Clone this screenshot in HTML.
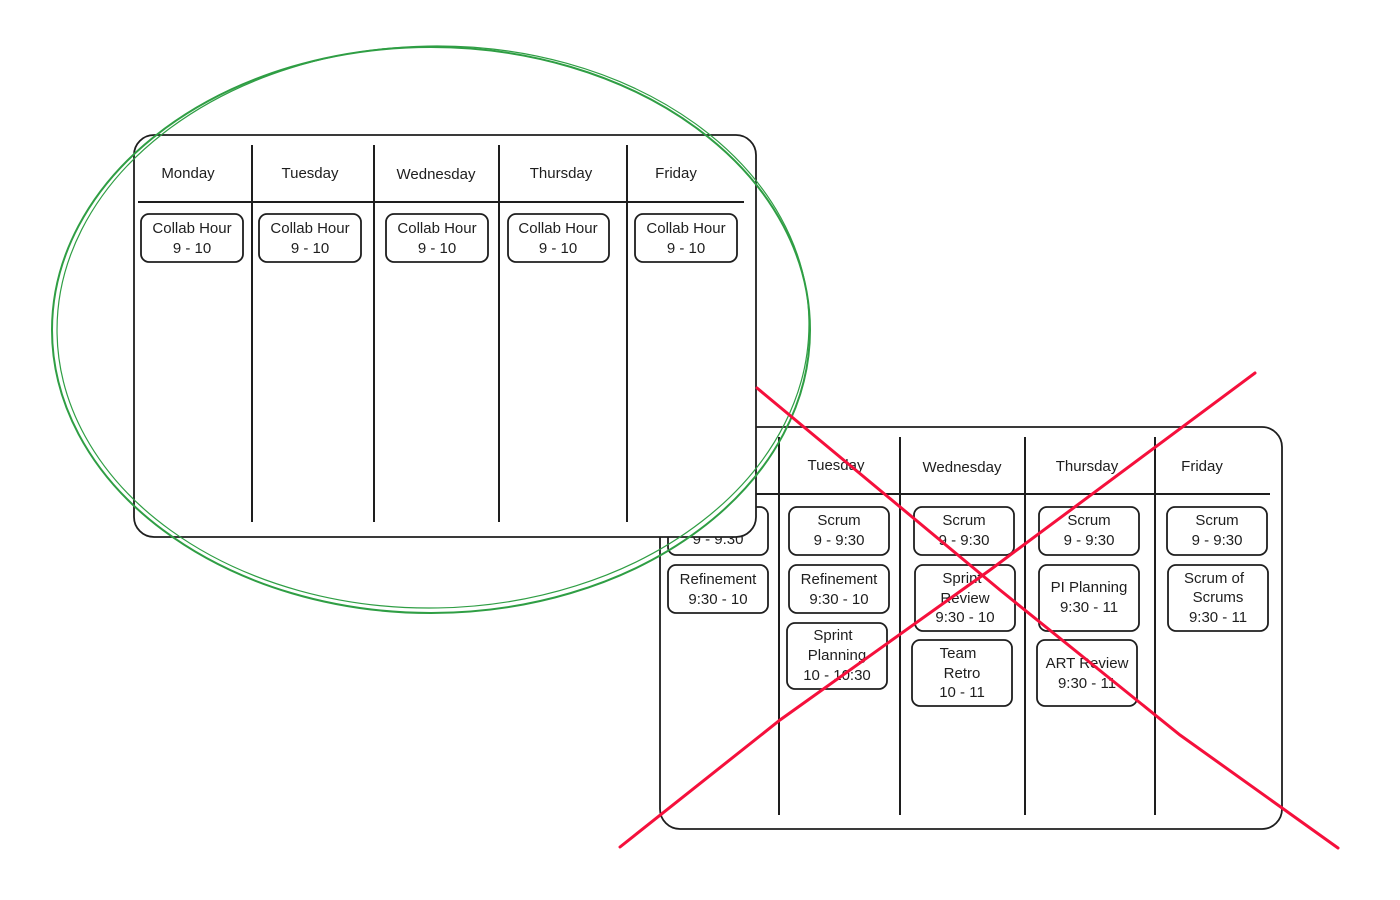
<!DOCTYPE html>
<html><head><meta charset="utf-8"><style>
html,body{margin:0;padding:0;background:#fff;}
svg{display:block}
text{font-family:"Liberation Sans",sans-serif;font-size:15px;fill:#1e1e1e;text-anchor:middle}
.b{fill:#fff;stroke:#1e1e1e;stroke-width:1.8}
.l{stroke:#1e1e1e;stroke-width:2;fill:none}
</style></head><body>
<svg width="1400" height="900" viewBox="0 0 1400 900" xmlns="http://www.w3.org/2000/svg">
<!-- back card -->
<rect class="b" x="660" y="427" width="622" height="402" rx="20"/>
<line class="l" x1="662" y1="494" x2="1270" y2="494"/>
<line class="l" x1="779" y1="437" x2="779" y2="815"/>
<line class="l" x1="900" y1="437" x2="900" y2="815"/>
<line class="l" x1="1025" y1="437" x2="1025" y2="815"/>
<line class="l" x1="1155" y1="437" x2="1155" y2="815"/>
<text x="836" y="470">Tuesday</text>
<text x="962" y="472">Wednesday</text>
<text x="1087" y="471">Thursday</text>
<text x="1202" y="471">Friday</text>
<!-- left column -->
<rect class="b" x="668" y="507" width="100" height="48" rx="8"/>
<text x="718" y="544">9 - 9:30</text>
<rect class="b" x="668" y="565" width="100" height="48" rx="8"/>
<text x="718" y="584">Refinement</text><text x="718" y="604">9:30 - 10</text>
<!-- Tuesday -->
<rect class="b" x="789" y="507" width="100" height="48" rx="8"/>
<text x="839" y="525">Scrum</text><text x="839" y="545">9 - 9:30</text>
<rect class="b" x="789" y="565" width="100" height="48" rx="8"/>
<text x="839" y="584">Refinement</text><text x="839" y="604">9:30 - 10</text>
<rect class="b" x="787" y="623" width="100" height="66" rx="8"/>
<text x="833" y="640">Sprint</text><text x="837" y="660">Planning</text><text x="837" y="680">10 - 10:30</text>
<!-- Wednesday -->
<rect class="b" x="914" y="507" width="100" height="48" rx="8"/>
<text x="964" y="525">Scrum</text><text x="964" y="545">9 - 9:30</text>
<rect class="b" x="915" y="565" width="100" height="66" rx="8"/>
<text x="962" y="583">Sprint</text><text x="965" y="603">Review</text><text x="965" y="622">9:30 - 10</text>
<rect class="b" x="912" y="640" width="100" height="66" rx="8"/>
<text x="958" y="658">Team</text><text x="962" y="678">Retro</text><text x="962" y="697">10 - 11</text>
<!-- Thursday -->
<rect class="b" x="1039" y="507" width="100" height="48" rx="8"/>
<text x="1089" y="525">Scrum</text><text x="1089" y="545">9 - 9:30</text>
<rect class="b" x="1039" y="565" width="100" height="66" rx="8"/>
<text x="1089" y="592">PI Planning</text><text x="1089" y="612">9:30 - 11</text>
<rect class="b" x="1037" y="640" width="100" height="66" rx="8"/>
<text x="1087" y="668">ART Review</text><text x="1087" y="688">9:30 - 11</text>
<!-- Friday -->
<rect class="b" x="1167" y="507" width="100" height="48" rx="8"/>
<text x="1217" y="525">Scrum</text><text x="1217" y="545">9 - 9:30</text>
<rect class="b" x="1168" y="565" width="100" height="66" rx="8"/>
<text x="1214" y="583">Scrum of</text><text x="1218" y="602">Scrums</text><text x="1218" y="622">9:30 - 11</text>

<!-- front card -->
<rect class="b" x="134" y="135" width="622" height="402" rx="20"/>
<line class="l" x1="138" y1="202" x2="744" y2="202"/>
<line class="l" x1="252" y1="145" x2="252" y2="522"/>
<line class="l" x1="374" y1="145" x2="374" y2="522"/>
<line class="l" x1="499" y1="145" x2="499" y2="522"/>
<line class="l" x1="627" y1="145" x2="627" y2="522"/>
<text x="188" y="178">Monday</text>
<text x="310" y="178">Tuesday</text>
<text x="436" y="179">Wednesday</text>
<text x="561" y="178">Thursday</text>
<text x="676" y="178">Friday</text>
<g>
<rect class="b" x="141" y="214" width="102" height="48" rx="8"/>
<text x="192" y="233">Collab Hour</text><text x="192" y="253">9 - 10</text>
<rect class="b" x="259" y="214" width="102" height="48" rx="8"/>
<text x="310" y="233">Collab Hour</text><text x="310" y="253">9 - 10</text>
<rect class="b" x="386" y="214" width="102" height="48" rx="8"/>
<text x="437" y="233">Collab Hour</text><text x="437" y="253">9 - 10</text>
<rect class="b" x="508" y="214" width="101" height="48" rx="8"/>
<text x="558" y="233">Collab Hour</text><text x="558" y="253">9 - 10</text>
<rect class="b" x="635" y="214" width="102" height="48" rx="8"/>
<text x="686" y="233">Collab Hour</text><text x="686" y="253">9 - 10</text>
</g>

<!-- green ellipse -->
<ellipse cx="431" cy="330" rx="379" ry="283" fill="none" stroke="#2f9e44" stroke-width="2"/>
<ellipse cx="433" cy="327" rx="376" ry="281" fill="none" stroke="#2f9e44" stroke-width="1.2" transform="rotate(-1 433 327)"/>
<!-- red X -->
<path d="M757 388 L1000 590 L1180 735 L1338 848" fill="none" stroke="#f5103c" stroke-width="3" stroke-linecap="round"/>
<path d="M1255 373 L990 570 L780 720 L620 847" fill="none" stroke="#f5103c" stroke-width="3" stroke-linecap="round"/>
</svg>
</body></html>
